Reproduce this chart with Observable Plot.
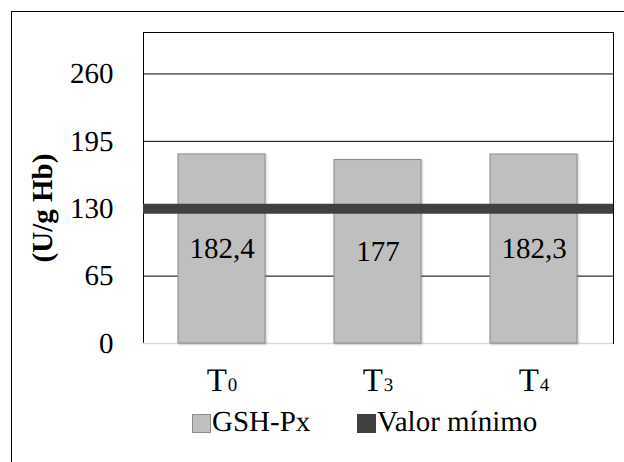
<!DOCTYPE html>
<html>
<head>
<meta charset="utf-8">
<script src="https://cdn.jsdelivr.net/npm/d3@7"></script>
<script src="https://cdn.jsdelivr.net/npm/@observablehq/plot@0.6"></script>
<style>
  body { margin: 0; background: #fff; }
  #wrap {
    position: relative; width: 624px; height: 462px; overflow: hidden;
    font-family: 'Liberation Serif'; color: #000; text-rendering: geometricPrecision;
  }
  #frame {
    position: absolute; left: 11px; top: 11px; width: 700px; height: 600px;
    border: 1px solid #000; box-sizing: border-box;
  }
  #chart { position: absolute; left: 0; top: 0; }
  #chart svg text { text-rendering: geometricPrecision; }
  #chart svg g[aria-label="bar"] rect { filter: drop-shadow(1.5px 1.5px 1px rgba(0,0,0,0.22)); }
  .key { position: absolute; top: 408px; font-size: 29px; line-height: 29px; white-space: nowrap; font-family: 'Liberation Serif'; }
  .swatch { position: absolute; width: 19px; height: 19px; box-sizing: border-box; }
</style>
</head>
<body>
<div id="wrap">
  <div id="frame"></div>
  <div id="chart"></div>
  <div class="swatch" style="left:192px; top:414px; background:#bfbfbf; border:1px solid #8c8c8c;"></div>
  <div class="key" style="left:212px;">GSH-Px</div>
  <div class="swatch" style="left:357px; top:414px; background:#404040; border:1px solid #404040;"></div>
  <div class="key" style="left:377px;">Valor mínimo</div>
</div>
<script>
// Sampling times (subscript digit after the "T")
const groups = ["T0", "T3", "T4"];
// GSH-Px activity, U/g Hb
const gshPx = [182.4, 177, 182.3];
// Reference minimum value
const valorMinimo = 130;
// Y axis ticks and upper bound
const yTicks = [0, 65, 130, 195, 260];
const yMax = 300;

const data = groups.map((g, i) => ({group: g, value: gshPx[i]}));
const fmt = v => String(v).replace(".", ",");

const chart = Plot.plot({
  width: 624,
  height: 400,
  marginLeft: 143,
  marginRight: 11,
  marginTop: 32,
  marginBottom: 57,
  style: {fontFamily: "Liberation Serif", fontSize: "29px", color: "#000", background: "transparent", overflow: "visible"},
  x: {domain: groups, paddingInner: 0.44, paddingOuter: 0.22, label: null},
  y: {domain: [0, yMax], label: null},
  marks: [
    Plot.gridY(yTicks, {stroke: "#000", strokeOpacity: 1, strokeWidth: 1}),
    Plot.frame({stroke: "#000"}),
    Plot.ruleY([0], {stroke: "#d5dde9", strokeWidth: 1.5}),
    Plot.barY(data, {x: "group", y: "value", fill: "#bfbfbf", stroke: "#8e8e8e", strokeWidth: 1}),
    Plot.ruleY([valorMinimo], {stroke: "#404040", strokeWidth: 10}),
    Plot.text(data, {x: "group", y: d => d.value / 2, text: d => fmt(d.value), fontSize: 29, fill: "#000"}),
    Plot.axisY(yTicks, {tickSize: 0, tickPadding: 30, fontSize: 29, label: null}),
    Plot.axisX({tickSize: 0, tickPadding: 24, fontSize: 33, label: null}),
    Plot.text(["(U/g Hb)"], {frameAnchor: "left", textAnchor: "middle", dx: -101, dy: 20, rotate: -90, fontWeight: "bold", fontSize: 29, fill: "#000"})
  ]
});
document.getElementById("chart").appendChild(chart);
d3.select(chart).selectAll("text").style("font-family", "'Liberation Serif'");

// Render the time index as a subscript: "T" + smaller digit
d3.select(chart).selectAll('g[aria-label="x-axis tick label"] text').each(function () {
  const label = this.textContent;
  const t = d3.select(this);
  t.text(label.slice(0, 1));
  t.append("tspan").attr("font-size", "19px").attr("dx", "1").text(label.slice(1));
});
</script>
</body>
</html>
